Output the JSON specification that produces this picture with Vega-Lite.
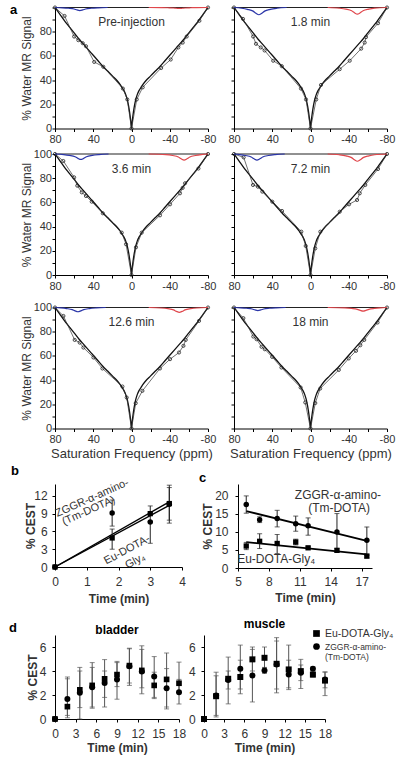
{
"$schema":"https://vega.github.io/schema/vega-lite/v6.json",
"background":"white",
"padding":{"left":9,"top":1.5,"right":2,"bottom":2},
"config":{
 "view":{"stroke":null},
 "font":"Liberation Sans",
 "axis":{"grid":false,"domainColor":"#000","tickColor":"#000","labelColor":"#333","titleColor":"#333","labelFontSize":11,"titleFontSize":12,"titleFontWeight":"normal","tickSize":3,"labelPadding":2,"titlePadding":2,"labelFlush":false,"labelOverlap":false,"labelFont":"Liberation Sans","titleFont":"Liberation Sans"},
 "title":{"font":"Liberation Sans","fontSize":12,"fontWeight":"bold","color":"#000"}
},
"datasets":{
 "labs":[{"k":"p0","lab":"Pre-injection","f":0,"v":88},{"k":"p1","lab":"1.8 min","f":0,"v":88},{"k":"p2","lab":"3.6 min","f":0,"v":88},{"k":"p3","lab":"7.2 min","f":0,"v":88},{"k":"p4","lab":"12.6 min","f":0,"v":88},{"k":"p5","lab":"18 min","f":0,"v":88},
  {"k":"b1","lab":"ZGGR-α-amino-","t":1.17,"v":11.6},{"k":"b1","lab":"(Tm-DOTA)","t":1.06,"v":9.45},{"k":"b2","lab":"Eu-DOTA-","t":2.27,"v":2.85},{"k":"b2","lab":"Gly₄","t":2.53,"v":1.0},
  {"k":"c1","lab":"ZGGR-α-amino-","t":14.7,"v":20.2},{"k":"c1","lab":"(Tm-DOTA)","t":14.8,"v":16.7},{"k":"c1","lab":"Eu-DOTA-Gly₄","t":8.7,"v":2.6}],
 "top":[{"f":80,"v":100},{"f":-80,"v":100}],
 "fit":[{"f":80,"v":100},{"f":75,"v":94.5},{"f":70,"v":89},{"f":65,"v":84},{"f":60,"v":79},{"f":55,"v":74},{"f":50,"v":69.5},{"f":45,"v":65},{"f":40,"v":60.5},{"f":35,"v":56},{"f":30,"v":51.5},{"f":25,"v":47.5},{"f":20,"v":43.5},{"f":15,"v":39.5},{"f":12,"v":36.5},{"f":10,"v":34},{"f":8,"v":31.5},{"f":6,"v":28},{"f":5,"v":25.5},{"f":4,"v":22.5},{"f":3,"v":18.5},{"f":2,"v":13.5},{"f":1,"v":7.5},{"f":0.5,"v":4},{"f":0,"v":0},
  {"f":-0.5,"v":4},{"f":-1,"v":7.5},{"f":-2,"v":13.5},{"f":-3,"v":18.5},{"f":-4,"v":22.5},{"f":-5,"v":25.5},{"f":-6,"v":28},{"f":-8,"v":31.5},{"f":-10,"v":34},{"f":-12,"v":36.5},{"f":-15,"v":39.5},{"f":-20,"v":43.5},{"f":-25,"v":47.5},{"f":-30,"v":51.5},{"f":-35,"v":56},{"f":-40,"v":60.5},{"f":-45,"v":65},{"f":-50,"v":69.5},{"f":-55,"v":74},{"f":-60,"v":79},{"f":-65,"v":84},{"f":-70,"v":89},{"f":-75,"v":94.5},{"f":-80,"v":100}],
 "zs":[
  {"p":"p0","f":80,"v":100},{"p":"p0","f":70,"v":93},{"p":"p0","f":60,"v":76},{"p":"p0","f":55.6,"v":73},{"p":"p0","f":51,"v":70.5},{"p":"p0","f":47.6,"v":68},{"p":"p0","f":39,"v":55},{"p":"p0","f":29.5,"v":51},{"p":"p0","f":9,"v":33},{"p":"p0","f":4.4,"v":24},{"p":"p0","f":0,"v":0},{"p":"p0","f":-5.5,"v":24},{"p":"p0","f":-11.7,"v":34},{"p":"p0","f":-31,"v":50},{"p":"p0","f":-41,"v":57},{"p":"p0","f":-49,"v":67},{"p":"p0","f":-53.6,"v":71},{"p":"p0","f":-57.7,"v":76},{"p":"p0","f":-71,"v":89},{"p":"p0","f":-80,"v":100},
  {"p":"p1","f":80,"v":100},{"p":"p1","f":70.6,"v":90.6},{"p":"p1","f":60,"v":76},{"p":"p1","f":57,"v":70},{"p":"p1","f":52,"v":67},{"p":"p1","f":48,"v":64.5},{"p":"p1","f":39,"v":56},{"p":"p1","f":30,"v":51.5},{"p":"p1","f":10,"v":33},{"p":"p1","f":4.7,"v":24},{"p":"p1","f":0,"v":0},{"p":"p1","f":-6,"v":24},{"p":"p1","f":-11,"v":36},{"p":"p1","f":-30.5,"v":49},{"p":"p1","f":-41,"v":56},{"p":"p1","f":-53,"v":66},{"p":"p1","f":-56.7,"v":71},{"p":"p1","f":-58,"v":75.5},{"p":"p1","f":-70.6,"v":87},{"p":"p1","f":-80,"v":100},
  {"p":"p2","f":80,"v":100},{"p":"p2","f":71.3,"v":94.2},{"p":"p2","f":60,"v":80.7},{"p":"p2","f":56.7,"v":73.8},{"p":"p2","f":52,"v":68.3},{"p":"p2","f":47.6,"v":65.3},{"p":"p2","f":41.6,"v":60.6},{"p":"p2","f":30,"v":51},{"p":"p2","f":10.2,"v":35},{"p":"p2","f":5.7,"v":25.4},{"p":"p2","f":0,"v":0},{"p":"p2","f":-4.7,"v":22.9},{"p":"p2","f":-10.7,"v":35},{"p":"p2","f":-29.8,"v":49.3},{"p":"p2","f":-40.3,"v":58.4},{"p":"p2","f":-50.7,"v":67.5},{"p":"p2","f":-53.5,"v":72},{"p":"p2","f":-56,"v":75.8},{"p":"p2","f":-70,"v":88},{"p":"p2","f":-80,"v":100},
  {"p":"p3","f":80,"v":100},{"p":"p3","f":69.9,"v":97.2},{"p":"p3","f":60.1,"v":74.4},{"p":"p3","f":55,"v":73},{"p":"p3","f":50.4,"v":68.9},{"p":"p3","f":40,"v":60.6},{"p":"p3","f":29.8,"v":52.9},{"p":"p3","f":9.6,"v":35.8},{"p":"p3","f":5,"v":24},{"p":"p3","f":0,"v":0},{"p":"p3","f":-5,"v":22},{"p":"p3","f":-10.3,"v":35.8},{"p":"p3","f":-30.6,"v":52.3},{"p":"p3","f":-40.3,"v":58.4},{"p":"p3","f":-48.7,"v":62},{"p":"p3","f":-51.5,"v":67.5},{"p":"p3","f":-57.3,"v":74.4},{"p":"p3","f":-70.6,"v":87.6},{"p":"p3","f":-80,"v":100},
  {"p":"p4","f":80,"v":100},{"p":"p4","f":71.2,"v":93},{"p":"p4","f":59.4,"v":73.2},{"p":"p4","f":54.2,"v":71},{"p":"p4","f":50.3,"v":66.9},{"p":"p4","f":39.8,"v":58.7},{"p":"p4","f":30.4,"v":49.6},{"p":"p4","f":9.5,"v":34.7},{"p":"p4","f":5,"v":25.6},{"p":"p4","f":0,"v":0},{"p":"p4","f":-4.4,"v":20.9},{"p":"p4","f":-11.4,"v":31.1},{"p":"p4","f":-29.8,"v":49.6},{"p":"p4","f":-40.3,"v":57.3},{"p":"p4","f":-49.7,"v":62.8},{"p":"p4","f":-54.3,"v":68.3},{"p":"p4","f":-56.7,"v":73.2},{"p":"p4","f":-70.6,"v":88.9},{"p":"p4","f":-80,"v":100},
  {"p":"p5","f":80,"v":100},{"p":"p5","f":70.2,"v":91.2},{"p":"p5","f":59.8,"v":76},{"p":"p5","f":56.4,"v":73.8},{"p":"p5","f":51.2,"v":67.5},{"p":"p5","f":47.8,"v":65.5},{"p":"p5","f":40.1,"v":59.2},{"p":"p5","f":30.4,"v":50.4},{"p":"p5","f":10.3,"v":33.9},{"p":"p5","f":5.5,"v":21.5},{"p":"p5","f":0,"v":0},{"p":"p5","f":-5,"v":21},{"p":"p5","f":-10.1,"v":33},{"p":"p5","f":-29.6,"v":48.4},{"p":"p5","f":-40,"v":57.9},{"p":"p5","f":-47.6,"v":64.2},{"p":"p5","f":-52.1,"v":68.8},{"p":"p5","f":-56.2,"v":73.2},{"p":"p5","f":-70.1,"v":87.6},{"p":"p5","f":-80,"v":100}
 ],
 "dips":[
  {"p":"p0","c":"b","f":80,"v":100},{"p":"p0","c":"b","f":72,"v":99.75},{"p":"p0","c":"b","f":66,"v":99.38},{"p":"p0","c":"b","f":60,"v":98.75},{"p":"p0","c":"b","f":57,"v":98},{"p":"p0","c":"b","f":54,"v":97.5},{"p":"p0","c":"b","f":51,"v":98},{"p":"p0","c":"b","f":48,"v":98.75},{"p":"p0","c":"b","f":42,"v":99.38},{"p":"p0","c":"b","f":35,"v":99.75},{"p":"p0","c":"b","f":25,"v":100},
  {"p":"p0","c":"r","f":-18,"v":100},{"p":"p0","c":"r","f":-31,"v":99.92},{"p":"p0","c":"r","f":-38,"v":99.8},{"p":"p0","c":"r","f":-44,"v":99.6},{"p":"p0","c":"r","f":-47,"v":99.36},{"p":"p0","c":"r","f":-50,"v":99.2},{"p":"p0","c":"r","f":-53,"v":99.36},{"p":"p0","c":"r","f":-56,"v":99.6},{"p":"p0","c":"r","f":-62,"v":99.8},{"p":"p0","c":"r","f":-68,"v":99.92},{"p":"p0","c":"r","f":-80,"v":100},
  {"p":"p1","c":"b","f":80,"v":100},{"p":"p1","c":"b","f":72,"v":99.4},{"p":"p1","c":"b","f":66,"v":98.5},{"p":"p1","c":"b","f":60,"v":97},{"p":"p1","c":"b","f":57,"v":95.2},{"p":"p1","c":"b","f":54,"v":94},{"p":"p1","c":"b","f":51,"v":95.2},{"p":"p1","c":"b","f":48,"v":97},{"p":"p1","c":"b","f":42,"v":98.5},{"p":"p1","c":"b","f":35,"v":99.4},{"p":"p1","c":"b","f":25,"v":100},
  {"p":"p1","c":"r","f":-18,"v":100},{"p":"p1","c":"r","f":-30,"v":99.45},{"p":"p1","c":"r","f":-37,"v":98.63},{"p":"p1","c":"r","f":-43,"v":97.25},{"p":"p1","c":"r","f":-46,"v":95.6},{"p":"p1","c":"r","f":-49,"v":94.5},{"p":"p1","c":"r","f":-52,"v":95.6},{"p":"p1","c":"r","f":-55,"v":97.25},{"p":"p1","c":"r","f":-61,"v":98.63},{"p":"p1","c":"r","f":-67,"v":99.45},{"p":"p1","c":"r","f":-80,"v":100},
  {"p":"p2","c":"b","f":80,"v":100},{"p":"p2","c":"b","f":71,"v":99.55},{"p":"p2","c":"b","f":65,"v":98.88},{"p":"p2","c":"b","f":59,"v":97.75},{"p":"p2","c":"b","f":56,"v":96.4},{"p":"p2","c":"b","f":53,"v":95.5},{"p":"p2","c":"b","f":50,"v":96.4},{"p":"p2","c":"b","f":47,"v":97.75},{"p":"p2","c":"b","f":41,"v":98.88},{"p":"p2","c":"b","f":34,"v":99.55},{"p":"p2","c":"b","f":24,"v":100},
  {"p":"p2","c":"r","f":-18,"v":100},{"p":"p2","c":"r","f":-36,"v":99.5},{"p":"p2","c":"r","f":-43,"v":98.75},{"p":"p2","c":"r","f":-49,"v":97.5},{"p":"p2","c":"r","f":-52,"v":96},{"p":"p2","c":"r","f":-55,"v":95},{"p":"p2","c":"r","f":-58,"v":96},{"p":"p2","c":"r","f":-61,"v":97.5},{"p":"p2","c":"r","f":-67,"v":98.75},{"p":"p2","c":"r","f":-73,"v":99.5},{"p":"p2","c":"r","f":-80,"v":100},
  {"p":"p3","c":"b","f":80,"v":100},{"p":"p3","c":"b","f":74,"v":99.5},{"p":"p3","c":"b","f":68,"v":98.75},{"p":"p3","c":"b","f":62,"v":97.5},{"p":"p3","c":"b","f":59,"v":96},{"p":"p3","c":"b","f":56,"v":95},{"p":"p3","c":"b","f":53,"v":96},{"p":"p3","c":"b","f":50,"v":97.5},{"p":"p3","c":"b","f":44,"v":98.75},{"p":"p3","c":"b","f":37,"v":99.5},{"p":"p3","c":"b","f":27,"v":100},
  {"p":"p3","c":"r","f":-18,"v":100},{"p":"p3","c":"r","f":-30,"v":99.4},{"p":"p3","c":"r","f":-37,"v":98.5},{"p":"p3","c":"r","f":-43,"v":97},{"p":"p3","c":"r","f":-46,"v":95.2},{"p":"p3","c":"r","f":-49,"v":94},{"p":"p3","c":"r","f":-52,"v":95.2},{"p":"p3","c":"r","f":-55,"v":97},{"p":"p3","c":"r","f":-61,"v":98.5},{"p":"p3","c":"r","f":-67,"v":99.4},{"p":"p3","c":"r","f":-80,"v":100},
  {"p":"p4","c":"b","f":80,"v":100},{"p":"p4","c":"b","f":74,"v":99.65},{"p":"p4","c":"b","f":68,"v":99.13},{"p":"p4","c":"b","f":62,"v":98.25},{"p":"p4","c":"b","f":59,"v":97.2},{"p":"p4","c":"b","f":56,"v":96.5},{"p":"p4","c":"b","f":53,"v":97.2},{"p":"p4","c":"b","f":50,"v":98.25},{"p":"p4","c":"b","f":44,"v":99.13},{"p":"p4","c":"b","f":37,"v":99.65},{"p":"p4","c":"b","f":27,"v":100},
  {"p":"p4","c":"r","f":-18,"v":100},{"p":"p4","c":"r","f":-31,"v":99.6},{"p":"p4","c":"r","f":-38,"v":99},{"p":"p4","c":"r","f":-44,"v":98},{"p":"p4","c":"r","f":-47,"v":96.8},{"p":"p4","c":"r","f":-50,"v":96},{"p":"p4","c":"r","f":-53,"v":96.8},{"p":"p4","c":"r","f":-56,"v":98},{"p":"p4","c":"r","f":-62,"v":99},{"p":"p4","c":"r","f":-68,"v":99.6},{"p":"p4","c":"r","f":-80,"v":100},
  {"p":"p5","c":"b","f":80,"v":100},{"p":"p5","c":"b","f":73,"v":99.75},{"p":"p5","c":"b","f":67,"v":99.38},{"p":"p5","c":"b","f":61,"v":98.75},{"p":"p5","c":"b","f":58,"v":98},{"p":"p5","c":"b","f":55,"v":97.5},{"p":"p5","c":"b","f":52,"v":98},{"p":"p5","c":"b","f":49,"v":98.75},{"p":"p5","c":"b","f":43,"v":99.38},{"p":"p5","c":"b","f":36,"v":99.75},{"p":"p5","c":"b","f":26,"v":100},
  {"p":"p5","c":"r","f":-18,"v":100},{"p":"p5","c":"r","f":-36,"v":99.7},{"p":"p5","c":"r","f":-43,"v":99.25},{"p":"p5","c":"r","f":-49,"v":98.5},{"p":"p5","c":"r","f":-52,"v":97.6},{"p":"p5","c":"r","f":-55,"v":97},{"p":"p5","c":"r","f":-58,"v":97.6},{"p":"p5","c":"r","f":-61,"v":98.5},{"p":"p5","c":"r","f":-67,"v":99.25},{"p":"p5","c":"r","f":-73,"v":99.7},{"p":"p5","c":"r","f":-80,"v":100}
 ],
 "bf":[{"s":"Z","t":0,"v":0},{"s":"Z","t":3.6,"v":11.0},{"s":"E","t":0,"v":0},{"s":"E","t":3.6,"v":10.4}],
 "bd":[{"s":"Z","t":0,"v":0,"lo":0,"hi":0},{"s":"Z","t":1.8,"v":9.1,"lo":6.9,"hi":11.3},{"s":"Z","t":3.0,"v":7.6,"lo":4.0,"hi":7.6},{"s":"Z","t":3.6,"v":10.6,"lo":7.4,"hi":13.8},
       {"s":"E","t":0,"v":0,"lo":0,"hi":0},{"s":"E","t":1.8,"v":4.9,"lo":3.0,"hi":6.4},{"s":"E","t":3.0,"v":9.0,"lo":7.7,"hi":10.3},{"s":"E","t":3.6,"v":10.7,"lo":7.9,"hi":13.4}],
 "cf":[{"s":"Z","t":5.8,"v":15.8},{"s":"Z","t":17.5,"v":7.5},{"s":"E","t":5.8,"v":7.2},{"s":"E","t":17.5,"v":3.8}],
 "cd":[{"s":"Z","t":5.8,"v":17.6,"lo":15.2,"hi":20.0},{"s":"Z","t":7.1,"v":13.4,"lo":12.6,"hi":14.2},{"s":"Z","t":8.8,"v":13.7,"lo":11.4,"hi":16.0},{"s":"Z","t":10.6,"v":12.3,"lo":10.2,"hi":14.4},{"s":"Z","t":11.8,"v":11.7,"lo":9.1,"hi":13.9},{"s":"Z","t":14.6,"v":10.0,"lo":4.9,"hi":15.1},{"s":"Z","t":17.5,"v":7.7,"lo":3.5,"hi":11.4},
       {"s":"E","t":5.8,"v":6.1,"lo":5.1,"hi":7.1},{"s":"E","t":7.1,"v":7.4,"lo":5.4,"hi":9.5},{"s":"E","t":8.8,"v":6.8,"lo":4.0,"hi":9.3},{"s":"E","t":10.6,"v":7.2,"lo":6.4,"hi":8.0},{"s":"E","t":11.8,"v":5.6,"lo":5.3,"hi":5.9},{"s":"E","t":14.6,"v":4.9,"lo":4.4,"hi":5.4},{"s":"E","t":17.5,"v":3.3,"lo":2.8,"hi":3.8}],
 "dd":[
  {"o":"B","s":"E","t":0,"v":0,"lo":0,"hi":0},{"o":"B","s":"E","t":1.8,"v":1.03,"lo":0.3,"hi":3.35},{"o":"B","s":"E","t":3.6,"v":2.43,"lo":0.0,"hi":4.3},{"o":"B","s":"E","t":5.4,"v":2.8,"lo":0.9,"hi":4.7},{"o":"B","s":"E","t":7.2,"v":3.35,"lo":1.0,"hi":4.95},{"o":"B","s":"E","t":9,"v":3.7,"lo":2.7,"hi":4.8},{"o":"B","s":"E","t":10.8,"v":4.45,"lo":3.0,"hi":5.9},{"o":"B","s":"E","t":12.6,"v":4.05,"lo":2.1,"hi":6.1},{"o":"B","s":"E","t":14.4,"v":2.8,"lo":1.7,"hi":3.9},{"o":"B","s":"E","t":16.2,"v":3.3,"lo":1.0,"hi":4.2},{"o":"B","s":"E","t":18,"v":2.98,"lo":2.2,"hi":3.3},
  {"o":"B","s":"Z","t":0,"v":0,"lo":0,"hi":0},{"o":"B","s":"Z","t":1.8,"v":1.67,"lo":0.1,"hi":3.5},{"o":"B","s":"Z","t":3.6,"v":2.18,"lo":0.95,"hi":4.0},{"o":"B","s":"Z","t":5.4,"v":2.65,"lo":1.0,"hi":4.3},{"o":"B","s":"Z","t":7.2,"v":3.0,"lo":1.8,"hi":4.0},{"o":"B","s":"Z","t":9,"v":3.3,"lo":1.65,"hi":4.7},{"o":"B","s":"Z","t":10.8,"v":4.4,"lo":2.8,"hi":5.85},{"o":"B","s":"Z","t":12.6,"v":3.96,"lo":2.6,"hi":5.8},{"o":"B","s":"Z","t":14.4,"v":3.54,"lo":1.8,"hi":5.2},{"o":"B","s":"Z","t":16.2,"v":2.57,"lo":0.84,"hi":5.5},{"o":"B","s":"Z","t":18,"v":2.23,"lo":1.25,"hi":4.74},
  {"o":"M","s":"E","t":0,"v":0,"lo":0,"hi":0},{"o":"M","s":"E","t":1.8,"v":1.9,"lo":0.17,"hi":3.9},{"o":"M","s":"E","t":3.6,"v":3.35,"lo":1.26,"hi":5.16},{"o":"M","s":"E","t":5.4,"v":3.5,"lo":2.1,"hi":4.9},{"o":"M","s":"E","t":7.2,"v":4.97,"lo":4.0,"hi":6.0},{"o":"M","s":"E","t":9,"v":5.1,"lo":4.27,"hi":6.0},{"o":"M","s":"E","t":10.8,"v":4.6,"lo":2.18,"hi":6.78},{"o":"M","s":"E","t":12.6,"v":4.13,"lo":2.45,"hi":6.16},{"o":"M","s":"E","t":14.4,"v":3.99,"lo":2.54,"hi":4.97},{"o":"M","s":"E","t":16.2,"v":3.7,"lo":3.5,"hi":3.9},{"o":"M","s":"E","t":18,"v":3.2,"lo":1.95,"hi":3.93},
  {"o":"M","s":"Z","t":0,"v":0,"lo":0,"hi":0},{"o":"M","s":"Z","t":1.8,"v":1.95,"lo":0.3,"hi":3.6},{"o":"M","s":"Z","t":3.6,"v":3.24,"lo":2.5,"hi":4.0},{"o":"M","s":"Z","t":5.4,"v":4.18,"lo":2.5,"hi":6.16},{"o":"M","s":"Z","t":7.2,"v":3.63,"lo":1.42,"hi":5.8},{"o":"M","s":"Z","t":9,"v":4.05,"lo":3.8,"hi":4.3},{"o":"M","s":"Z","t":10.8,"v":4.55,"lo":2.5,"hi":6.5},{"o":"M","s":"Z","t":12.6,"v":3.7,"lo":2.6,"hi":4.9},{"o":"M","s":"Z","t":14.4,"v":3.85,"lo":3.2,"hi":4.5},{"o":"M","s":"Z","t":16.2,"v":4.18,"lo":4.0,"hi":4.35},{"o":"M","s":"Z","t":18,"v":3.3,"lo":2.6,"hi":3.9}
 ]
},
"resolve":{"scale":{"shape":"independent"},"legend":{"shape":"independent"}},
"spacing":13.5,
"vconcat":[
{
 "spacing":3.5,
 "resolve":{"scale":{"shape":"independent"},"legend":{"shape":"independent"}},
 "vconcat":[
 {"spacing":11,"hconcat":[
  {"title":{"text":"a","anchor":"start","frame":"group","dx":-45,"offset":-15,"fontSize":13},
   "width":153,"height":121,
   "encoding":{
    "x":{"field":"f","type":"quantitative","scale":{"domain":[-80,80],"reverse":true,"nice":false,"zero":false},"axis":{"values":[80,60,40,20,0,-20,-40,-60,-80],"labelExpr":"abs(datum.value) % 40 == 0 ? (datum.value < 0 ? '-' : '') + abs(datum.value) : ''","title":null,"minExtent":16,"labelOverlap":false,"labelFlush":false}},
    "y":{"field":"v","type":"quantitative","scale":{"domain":[0,100],"nice":false,"zero":false},"axis":{"values":[0,10,20,30,40,50,60,70,80,90,100],"labelExpr":"datum.value % 20 == 0 && datum.value < 100 ? datum.label : ''","title":"% Water MR Signal","minExtent":21.5,"labelPadding":0.5,"titlePadding":0,"labelOverlap":false}}},
   "layer":[
    {"data":{"name":"top"},"mark":{"type":"line","color":"#222","strokeWidth":1}},
    {"data":{"name":"fit"},"mark":{"type":"line","color":"#111","strokeWidth":1.3,"interpolate":"monotone"}},
    {"data":{"name":"zs"},"transform":[{"filter":"datum.p == 'p0'"}],"mark":{"type":"line","color":"#333","strokeWidth":0.7}},
    {"data":{"name":"zs"},"transform":[{"filter":"datum.p == 'p0'"}],"mark":{"type":"point","shape":"circle","size":10,"filled":false,"color":"#222","strokeWidth":0.8,"opacity":1}},
    {"data":{"name":"dips"},"transform":[{"filter":"datum.p == 'p0'"}],"mark":{"type":"line","strokeWidth":1.2,"interpolate":"monotone"},"encoding":{"color":{"field":"c","type":"nominal","scale":{"domain":["b","r"],"range":["#2a35a8","#e0474c"]},"legend":null}}},
    {"data":{"name":"labs"},"transform":[{"filter":"datum.k == 'p0'"}],"mark":{"type":"text","fontSize":12,"color":"#333"},"encoding":{"text":{"field":"lab"}}}
   ]},
  {"width":153,"height":121,
   "encoding":{
    "x":{"field":"f","type":"quantitative","scale":{"domain":[-80,80],"reverse":true,"nice":false,"zero":false},"axis":{"values":[80,60,40,20,0,-20,-40,-60,-80],"labelExpr":"abs(datum.value) % 40 == 0 ? (datum.value < 0 ? '-' : '') + abs(datum.value) : ''","title":null,"minExtent":16,"labelOverlap":false,"labelFlush":false}},
    "y":{"field":"v","type":"quantitative","scale":{"domain":[0,100],"nice":false,"zero":false},"axis":{"values":[0,10,20,30,40,50,60,70,80,90,100],"labels":false,"title":null}}},
   "layer":[
    {"data":{"name":"top"},"mark":{"type":"line","color":"#222","strokeWidth":1}},
    {"data":{"name":"fit"},"mark":{"type":"line","color":"#111","strokeWidth":1.3,"interpolate":"monotone"}},
    {"data":{"name":"zs"},"transform":[{"filter":"datum.p == 'p1'"}],"mark":{"type":"line","color":"#333","strokeWidth":0.7}},
    {"data":{"name":"zs"},"transform":[{"filter":"datum.p == 'p1'"}],"mark":{"type":"point","shape":"circle","size":10,"filled":false,"color":"#222","strokeWidth":0.8,"opacity":1}},
    {"data":{"name":"dips"},"transform":[{"filter":"datum.p == 'p1'"}],"mark":{"type":"line","strokeWidth":1.2,"interpolate":"monotone"},"encoding":{"color":{"field":"c","type":"nominal","scale":{"domain":["b","r"],"range":["#2a35a8","#e0474c"]},"legend":null}}},
    {"data":{"name":"labs"},"transform":[{"filter":"datum.k == 'p1'"}],"mark":{"type":"text","fontSize":12,"color":"#333"},"encoding":{"text":{"field":"lab"}}}
   ]}
 ]},
 {"spacing":11,"hconcat":[
  {"width":153,"height":121,
   "encoding":{
    "x":{"field":"f","type":"quantitative","scale":{"domain":[-80,80],"reverse":true,"nice":false,"zero":false},"axis":{"values":[80,60,40,20,0,-20,-40,-60,-80],"labelExpr":"abs(datum.value) % 40 == 0 ? (datum.value < 0 ? '-' : '') + abs(datum.value) : ''","title":null,"minExtent":23,"labelOverlap":false,"labelFlush":false}},
    "y":{"field":"v","type":"quantitative","scale":{"domain":[0,100],"nice":false,"zero":false},"axis":{"values":[0,10,20,30,40,50,60,70,80,90,100],"labelExpr":"datum.value % 20 == 0 ? datum.label : ''","title":"% Water MR Signal","minExtent":21.5,"labelPadding":0.5,"titlePadding":0,"labelOverlap":false}}},
   "layer":[
    {"data":{"name":"top"},"mark":{"type":"line","color":"#222","strokeWidth":1}},
    {"data":{"name":"fit"},"mark":{"type":"line","color":"#111","strokeWidth":1.3,"interpolate":"monotone"}},
    {"data":{"name":"zs"},"transform":[{"filter":"datum.p == 'p2'"}],"mark":{"type":"line","color":"#333","strokeWidth":0.7}},
    {"data":{"name":"zs"},"transform":[{"filter":"datum.p == 'p2'"}],"mark":{"type":"point","shape":"circle","size":10,"filled":false,"color":"#222","strokeWidth":0.8,"opacity":1}},
    {"data":{"name":"dips"},"transform":[{"filter":"datum.p == 'p2'"}],"mark":{"type":"line","strokeWidth":1.2,"interpolate":"monotone"},"encoding":{"color":{"field":"c","type":"nominal","scale":{"domain":["b","r"],"range":["#2a35a8","#e0474c"]},"legend":null}}},
    {"data":{"name":"labs"},"transform":[{"filter":"datum.k == 'p2'"}],"mark":{"type":"text","fontSize":12,"color":"#333"},"encoding":{"text":{"field":"lab"}}}
   ]},
  {"width":153,"height":121,
   "encoding":{
    "x":{"field":"f","type":"quantitative","scale":{"domain":[-80,80],"reverse":true,"nice":false,"zero":false},"axis":{"values":[80,60,40,20,0,-20,-40,-60,-80],"labelExpr":"abs(datum.value) % 40 == 0 ? (datum.value < 0 ? '-' : '') + abs(datum.value) : ''","title":null,"minExtent":23,"labelOverlap":false,"labelFlush":false}},
    "y":{"field":"v","type":"quantitative","scale":{"domain":[0,100],"nice":false,"zero":false},"axis":{"values":[0,10,20,30,40,50,60,70,80,90,100],"labels":false,"title":null}}},
   "layer":[
    {"data":{"name":"top"},"mark":{"type":"line","color":"#222","strokeWidth":1}},
    {"data":{"name":"fit"},"mark":{"type":"line","color":"#111","strokeWidth":1.3,"interpolate":"monotone"}},
    {"data":{"name":"zs"},"transform":[{"filter":"datum.p == 'p3'"}],"mark":{"type":"line","color":"#333","strokeWidth":0.7}},
    {"data":{"name":"zs"},"transform":[{"filter":"datum.p == 'p3'"}],"mark":{"type":"point","shape":"circle","size":10,"filled":false,"color":"#222","strokeWidth":0.8,"opacity":1}},
    {"data":{"name":"dips"},"transform":[{"filter":"datum.p == 'p3'"}],"mark":{"type":"line","strokeWidth":1.2,"interpolate":"monotone"},"encoding":{"color":{"field":"c","type":"nominal","scale":{"domain":["b","r"],"range":["#2a35a8","#e0474c"]},"legend":null}}},
    {"data":{"name":"labs"},"transform":[{"filter":"datum.k == 'p3'"}],"mark":{"type":"text","fontSize":12,"color":"#333"},"encoding":{"text":{"field":"lab"}}}
   ]}
 ]},
 {"spacing":11,"hconcat":[
  {"width":153,"height":121,
   "encoding":{
    "x":{"field":"f","type":"quantitative","scale":{"domain":[-80,80],"reverse":true,"nice":false,"zero":false},"axis":{"values":[80,60,40,20,0,-20,-40,-60,-80],"labelExpr":"abs(datum.value) % 40 == 0 ? (datum.value < 0 ? '-' : '') + abs(datum.value) : ''","title":"Saturation Frequency (ppm)","titleFontSize":13,"titlePadding":3,"labelOverlap":false,"labelFlush":false}},
    "y":{"field":"v","type":"quantitative","scale":{"domain":[0,100],"nice":false,"zero":false},"axis":{"values":[0,10,20,30,40,50,60,70,80,90,100],"labelExpr":"datum.value % 20 == 0 ? datum.label : ''","title":"% Water MR Signal","minExtent":21.5,"labelPadding":0.5,"titlePadding":0,"labelOverlap":false}}},
   "layer":[
    {"data":{"name":"top"},"mark":{"type":"line","color":"#222","strokeWidth":1}},
    {"data":{"name":"fit"},"mark":{"type":"line","color":"#111","strokeWidth":1.3,"interpolate":"monotone"}},
    {"data":{"name":"zs"},"transform":[{"filter":"datum.p == 'p4'"}],"mark":{"type":"line","color":"#333","strokeWidth":0.7}},
    {"data":{"name":"zs"},"transform":[{"filter":"datum.p == 'p4'"}],"mark":{"type":"point","shape":"circle","size":10,"filled":false,"color":"#222","strokeWidth":0.8,"opacity":1}},
    {"data":{"name":"dips"},"transform":[{"filter":"datum.p == 'p4'"}],"mark":{"type":"line","strokeWidth":1.2,"interpolate":"monotone"},"encoding":{"color":{"field":"c","type":"nominal","scale":{"domain":["b","r"],"range":["#2a35a8","#e0474c"]},"legend":null}}},
    {"data":{"name":"labs"},"transform":[{"filter":"datum.k == 'p4'"}],"mark":{"type":"text","fontSize":12,"color":"#333"},"encoding":{"text":{"field":"lab"}}}
   ]},
  {"width":153,"height":121,
   "encoding":{
    "x":{"field":"f","type":"quantitative","scale":{"domain":[-80,80],"reverse":true,"nice":false,"zero":false},"axis":{"values":[80,60,40,20,0,-20,-40,-60,-80],"labelExpr":"abs(datum.value) % 40 == 0 ? (datum.value < 0 ? '-' : '') + abs(datum.value) : ''","title":"Saturation Frequency (ppm)","titleFontSize":13,"titlePadding":3,"labelOverlap":false,"labelFlush":false}},
    "y":{"field":"v","type":"quantitative","scale":{"domain":[0,100],"nice":false,"zero":false},"axis":{"values":[0,10,20,30,40,50,60,70,80,90,100],"labels":false,"title":null}}},
   "layer":[
    {"data":{"name":"top"},"mark":{"type":"line","color":"#222","strokeWidth":1}},
    {"data":{"name":"fit"},"mark":{"type":"line","color":"#111","strokeWidth":1.3,"interpolate":"monotone"}},
    {"data":{"name":"zs"},"transform":[{"filter":"datum.p == 'p5'"}],"mark":{"type":"line","color":"#333","strokeWidth":0.7}},
    {"data":{"name":"zs"},"transform":[{"filter":"datum.p == 'p5'"}],"mark":{"type":"point","shape":"circle","size":10,"filled":false,"color":"#222","strokeWidth":0.8,"opacity":1}},
    {"data":{"name":"dips"},"transform":[{"filter":"datum.p == 'p5'"}],"mark":{"type":"line","strokeWidth":1.2,"interpolate":"monotone"},"encoding":{"color":{"field":"c","type":"nominal","scale":{"domain":["b","r"],"range":["#2a35a8","#e0474c"]},"legend":null}}},
    {"data":{"name":"labs"},"transform":[{"filter":"datum.k == 'p5'"}],"mark":{"type":"text","fontSize":12,"color":"#333"},"encoding":{"text":{"field":"lab"}}}
   ]}
 ]},
 {"spacing":13,"hconcat":[
  {"title":{"text":"b","anchor":"start","frame":"group","dx":-44,"offset":-1,"fontSize":13},
   "width":127,"height":83,
   "encoding":{
    "x":{"field":"t","type":"quantitative","scale":{"domain":[0,4],"nice":false},"axis":{"values":[0,1,2,3,4],"title":"Time (min)","titleFontWeight":"bold","labelFontSize":12,"labelPadding":6.7,"titlePadding":5.5,"labelOverlap":false,"labelFlush":false}},
    "y":{"field":"v","type":"quantitative","scale":{"domain":[0,14],"nice":false},"axis":{"values":[0,3,6,9,12],"title":"% CEST","titleFontWeight":"bold","labelFontSize":12,"labelPadding":4.8,"titlePadding":-3.5,"labelOverlap":false}}},
   "layer":[
    {"data":{"name":"bf"},"mark":{"type":"line","color":"#000","strokeWidth":1.4},"encoding":{"detail":{"field":"s"}}},
    {"data":{"name":"bd"},"transform":[{"filter":"datum.t > 0"}],"mark":{"type":"errorbar","ticks":true,"color":"#222"},"encoding":{"y":{"field":"lo","type":"quantitative","title":"% CEST"},"y2":{"field":"hi"}}},
    {"data":{"name":"bd"},"transform":[{"filter":"datum.s == 'E'"}],"mark":{"type":"point","shape":"square","filled":true,"color":"#000","size":28,"opacity":1}},
    {"data":{"name":"bd"},"transform":[{"filter":"datum.s == 'Z'"}],"mark":{"type":"point","shape":"circle","filled":true,"color":"#000","size":30,"opacity":1}},
    {"data":{"name":"labs"},"transform":[{"filter":"datum.k == 'b1'"}],"mark":{"type":"text","fontSize":11,"color":"#333","angle":336},"encoding":{"text":{"field":"lab"}}},
    {"data":{"name":"labs"},"transform":[{"filter":"datum.k == 'b2'"}],"mark":{"type":"text","fontSize":11,"color":"#333","angle":332},"encoding":{"text":{"field":"lab"}}}
   ]},
  {"title":{"text":"c","anchor":"start","frame":"group","dx":-39,"offset":-1,"fontSize":13},
   "width":134,"height":84,
   "encoding":{
    "x":{"field":"t","type":"quantitative","scale":{"domain":[5,18],"nice":false,"zero":false},"axis":{"values":[5,8,11,14,17],"title":"Time (min)","titleFontWeight":"bold","labelFontSize":12,"labelPadding":5,"titlePadding":5.7,"labelOverlap":false,"labelFlush":false}},
    "y":{"field":"v","type":"quantitative","scale":{"domain":[0,23.3],"nice":false},"axis":{"values":[0,5,10,15,20],"title":"% CEST","titleFontWeight":"bold","labelFontSize":12,"labelPadding":7,"titlePadding":0.5,"labelOverlap":false}}},
   "layer":[
    {"data":{"name":"cf"},"mark":{"type":"line","color":"#000","strokeWidth":1.8},"encoding":{"detail":{"field":"s"}}},
    {"data":{"name":"cd"},"mark":{"type":"errorbar","ticks":true,"color":"#222"},"encoding":{"y":{"field":"lo","type":"quantitative","title":"% CEST"},"y2":{"field":"hi"}}},
    {"data":{"name":"cd"},"transform":[{"filter":"datum.s == 'E'"}],"mark":{"type":"point","shape":"square","filled":true,"color":"#000","size":28,"opacity":1}},
    {"data":{"name":"cd"},"transform":[{"filter":"datum.s == 'Z'"}],"mark":{"type":"point","shape":"circle","filled":true,"color":"#000","size":30,"opacity":1}},
    {"data":{"name":"labs"},"transform":[{"filter":"datum.k == 'c1'"}],"mark":{"type":"text","fontSize":12,"color":"#333"},"encoding":{"text":{"field":"lab"}}}
   ]}
 ]}
 ]
},
{"spacing":2,
 "title":{"text":"d","anchor":"start","frame":"group","dx":-46,"offset":-17,"fontSize":13},
 "resolve":{"scale":{"shape":"independent"},"legend":{"shape":"independent"}},
 "hconcat":[
  {"title":{"text":"bladder","offset":-2,"fontSize":12},
   "width":124,"height":84,
   "data":{"name":"dd"},
   "transform":[{"filter":"datum.o == 'B'"}],
   "encoding":{
    "x":{"field":"t","type":"quantitative","scale":{"domain":[0,18],"nice":false},"axis":{"values":[0,3,6,9,12,15,18],"title":"Time (min)","titleFontWeight":"bold","labelFontSize":12,"labelPadding":6.6,"titlePadding":2.4,"labelOverlap":false,"labelFlush":false}},
    "y":{"field":"v","type":"quantitative","scale":{"domain":[0,7],"nice":false},"axis":{"values":[0,2,4,6],"title":"% CEST","titleFontWeight":"bold","labelFontSize":12,"labelPadding":6,"titlePadding":0,"labelOverlap":false}}},
   "layer":[
    {"transform":[{"filter":"datum.t > 0"}],"mark":{"type":"errorbar","ticks":true,"color":"#555"},"encoding":{"y":{"field":"lo","type":"quantitative","title":"% CEST"},"y2":{"field":"hi"}}},
    {"transform":[{"filter":"datum.s == 'E'"}],"mark":{"type":"point","shape":"square","filled":true,"color":"#000","size":32,"opacity":1}},
    {"transform":[{"filter":"datum.s == 'Z'"}],"mark":{"type":"point","shape":"circle","filled":true,"color":"#000","size":36,"opacity":1}}
   ]},
  {"title":{"text":"muscle","offset":-2,"fontSize":12},
   "width":121,"height":84,
   "data":{"name":"dd"},
   "transform":[{"filter":"datum.o == 'M'"}],
   "encoding":{
    "x":{"field":"t","type":"quantitative","scale":{"domain":[0,18],"nice":false},"axis":{"values":[0,3,6,9,12,15,18],"title":"Time (min)","titleFontWeight":"bold","labelFontSize":12,"labelPadding":6.6,"titlePadding":2.4,"labelOverlap":false,"labelFlush":false}},
    "y":{"field":"v","type":"quantitative","scale":{"domain":[0,7],"nice":false},"axis":{"values":[0,2,4,6],"title":null,"labelFontSize":12,"labelPadding":5.7,"labelOverlap":false}}},
   "layer":[
    {"transform":[{"filter":"datum.t > 0"}],"mark":{"type":"errorbar","ticks":true,"color":"#555"},"encoding":{"y":{"field":"lo","type":"quantitative"},"y2":{"field":"hi"}}},
    {"mark":{"type":"point","filled":true,"color":"#000","size":36,"opacity":1},
     "encoding":{"shape":{"field":"s","type":"nominal","scale":{"domain":["E","Z"],"range":["square","circle"]},
       "legend":{"title":null,"orient":"none","legendX":108,"legendY":-6,"labelExpr":"datum.value == 'E' ? 'Eu-DOTA-Gly₄' : ['ZGGR-α-amino-', '(Tm-DOTA)']","labelFontSize":{"expr":"datum.value == 'E' ? 10.5 : 8.5"},"labelColor":"#333","symbolSize":45,"symbolFillColor":"#000","symbolStrokeColor":"#000","rowPadding":0,"labelOffset":4}}}}
   ]}
 ]}
]
}
